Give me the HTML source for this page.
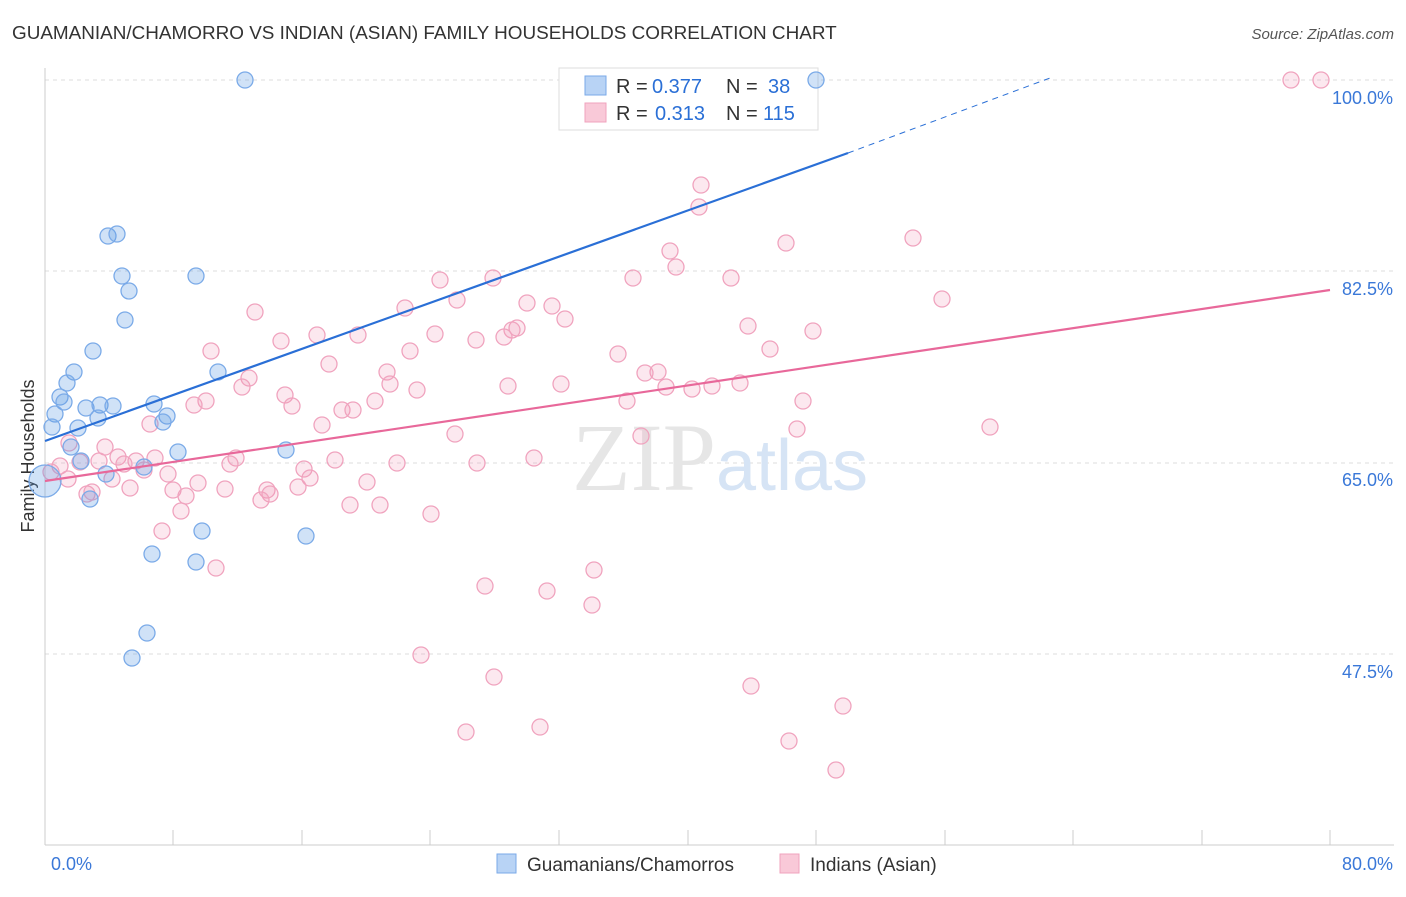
<!DOCTYPE html>
<html><head><meta charset="utf-8"><style>
body{margin:0;background:#fff;font-family:"Liberation Sans",sans-serif}
</style></head><body>
<svg width="1406" height="892" xmlns="http://www.w3.org/2000/svg" font-family="Liberation Sans, sans-serif">
<text x="12" y="39" font-size="18.9" fill="#333">GUAMANIAN/CHAMORRO VS INDIAN (ASIAN) FAMILY HOUSEHOLDS CORRELATION CHART</text>
<text x="1394" y="39" font-size="15" fill="#555" text-anchor="end" font-style="italic">Source: ZipAtlas.com</text>
<g stroke="#ddd" stroke-dasharray="4,4" stroke-width="1">
<line x1="45" y1="80" x2="1394" y2="80"/><line x1="45" y1="271" x2="1394" y2="271"/>
<line x1="45" y1="463" x2="1394" y2="463"/><line x1="45" y1="654" x2="1394" y2="654"/>
</g>
<line x1="45" y1="68" x2="45" y2="845" stroke="#ccc"/>
<line x1="45" y1="845" x2="1394" y2="845" stroke="#ccc"/>
<g stroke="#ccc"><line x1="173" y1="830" x2="173" y2="845"/><line x1="302" y1="830" x2="302" y2="845"/><line x1="430" y1="830" x2="430" y2="845"/><line x1="559" y1="830" x2="559" y2="845"/><line x1="688" y1="830" x2="688" y2="845"/><line x1="816" y1="830" x2="816" y2="845"/><line x1="945" y1="830" x2="945" y2="845"/><line x1="1073" y1="830" x2="1073" y2="845"/><line x1="1202" y1="830" x2="1202" y2="845"/><line x1="1330" y1="830" x2="1330" y2="845"/></g>
<g font-size="18" fill="#3a78d8" text-anchor="end">
<text x="1393" y="104">100.0%</text><text x="1393" y="295">82.5%</text><text x="1393" y="486">65.0%</text><text x="1393" y="678">47.5%</text>
<text x="92" y="870">0.0%</text><text x="1393" y="870">80.0%</text></g>
<text transform="translate(34,456) rotate(-90)" font-size="18" fill="#333" text-anchor="middle">Family Households</text>
<text x="720" y="490" font-size="96" fill="#e6e6e6" text-anchor="middle" font-family="Liberation Serif, serif">ZIP<tspan fill="#d6e4f5" font-family="Liberation Sans, sans-serif" font-size="72">atlas</tspan></text>
<rect x="559" y="68" width="259" height="62" fill="#fff" stroke="#ddd"/>
<rect x="585" y="76" width="21" height="19" fill="#b8d3f5" stroke="#7aaae8"/>
<rect x="585" y="103" width="21" height="19" fill="#f9c9d8" stroke="#f0a3be"/>
<g font-size="20" fill="#333">
<text x="616" y="93">R =</text><text x="652" y="93" fill="#2a6fd6">0.377</text><text x="726" y="93">N =</text><text x="768" y="93" fill="#2a6fd6">38</text>
<text x="616" y="120">R =</text><text x="655" y="120" fill="#2a6fd6">0.313</text><text x="726" y="120">N =</text><text x="763" y="120" fill="#2a6fd6">115</text></g>
<g fill="rgba(240,150,180,0.22)" stroke="#f0a3be" stroke-width="1.3" id="pk"></g>
<g fill="rgba(100,160,230,0.3)" stroke="#7aaae8" stroke-width="1.3" id="bl"></g>
<line x1="45" y1="481" x2="1330" y2="290" stroke="#e8689a" stroke-width="2.2"/>
<line x1="45" y1="441" x2="848" y2="153" stroke="#2a6fd6" stroke-width="2.2"/>
<line x1="848" y1="153" x2="1050" y2="78" stroke="#2a6fd6" stroke-width="1" stroke-dasharray="6,5"/>
<rect x="497" y="854" width="19" height="19" fill="#b8d3f5" stroke="#7aaae8"/>
<text x="527" y="871" font-size="19" fill="#333">Guamanians/Chamorros</text>
<rect x="780" y="854" width="19" height="19" fill="#f9c9d8" stroke="#f0a3be"/>
<text x="810" y="871" font-size="19" fill="#333">Indians (Asian)</text>
</svg>
<script>
var P=[[1291,80],[1321,80],[701,185],[699,207],[913,238],[786,243],[670,251],[676,267],[440,280],[493,278],[633,278],[731,278],[942,299],[255,312],[405,308],[457,300],[527,303],[552,306],[565,319],[517,328],[512,330],[435,334],[358,335],[317,335],[281,341],[476,340],[504,337],[748,326],[813,331],[211,351],[410,351],[618,354],[770,349],[329,364],[387,372],[658,372],[645,373],[249,378],[242,387],[390,384],[508,386],[561,384],[666,387],[712,386],[740,383],[692,389],[417,390],[285,395],[375,401],[292,406],[206,401],[194,405],[627,401],[803,401],[342,410],[353,410],[322,425],[150,424],[455,434],[641,436],[797,429],[990,427],[69,443],[105,447],[534,458],[477,463],[397,463],[335,460],[304,469],[118,457],[136,461],[155,458],[236,458],[230,464],[168,474],[144,470],[124,464],[99,461],[80,462],[60,466],[51,472],[68,479],[112,479],[310,478],[367,482],[198,483],[173,490],[130,488],[298,487],[267,490],[225,489],[270,494],[87,494],[92,492],[186,496],[261,500],[350,505],[380,505],[181,511],[431,514],[162,531],[216,568],[594,570],[485,586],[547,591],[592,605],[421,655],[494,677],[751,686],[843,706],[466,732],[540,727],[789,741],[836,770]];
var B=[[245,80],[816,80],[108,236],[117,234],[122,276],[196,276],[129,291],[125,320],[93,351],[74,372],[67,383],[60,397],[64,402],[55,414],[52,427],[86,408],[100,405],[113,406],[98,418],[78,428],[154,404],[167,416],[163,422],[218,372],[178,452],[71,447],[81,461],[106,474],[144,467],[90,499],[202,531],[306,536],[152,554],[196,562],[286,450],[147,633],[132,658]];
function add(id,a){var g=document.getElementById(id),s='';a.forEach(function(p){s+='<circle cx="'+p[0]+'" cy="'+p[1]+'" r="8"/>'});g.innerHTML=s;}
add('pk',P);add('bl',B);
document.getElementById('bl').insertAdjacentHTML('beforeend','<circle cx="45" cy="481" r="16"/>');
</script>
</body></html>
